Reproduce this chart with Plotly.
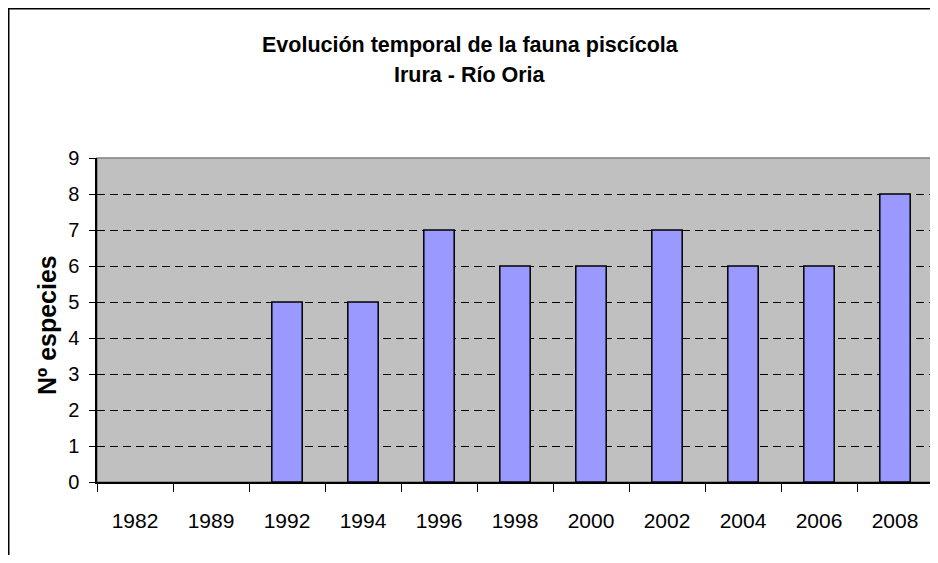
import plotly.graph_objects as go

years = ["1982", "1989", "1992", "1994", "1996", "1998", "2000", "2002", "2004", "2006", "2008"]
species = [None, None, 5, 5, 7, 6, 6, 7, 6, 6, 8]
y_ticks = [0, 1, 2, 3, 4, 5, 6, 7, 8, 9]

title_line1 = "Evolución temporal de la fauna piscícola"
title_line2 = "Irura - Río Oria"
y_title = "Nº especies"

# page body has an 8px margin, so the figure is offset by 8px;
# keep the figure small enough that no scrollbar appears
OFF = 8
W, H = 938 - OFF, 563 - 2 * OFF
L = 97 - OFF
T = 158 - OFF
R = W - (933 - OFF)
B = H - (482 - OFF)
pw = W - L - R
ph = H - T - B

def px_x(x):
    return (x - OFF - L) / pw

def px_y(y):
    return (H - B - (y - OFF)) / ph

FONT = "Liberation Sans, Arial, sans-serif"

fig = go.Figure()
fig.add_trace(go.Bar(
    x=years, y=species,
    marker=dict(color="#9999FF", line=dict(color="black", width=1.5)),
    width=0.4,
))

fig.update_layout(
    width=W, height=H,
    margin=dict(l=L, r=R, t=T, b=B),
    paper_bgcolor="white",
    plot_bgcolor="#C0C0C0",
    showlegend=False,
    font=dict(family=FONT, color="black"),
)

fig.update_xaxes(
    type="category",
    showgrid=False,
    showline=True, linecolor="black", linewidth=1.5,
    ticks="outside", ticklen=8, tickcolor="black", tickwidth=1,
    tickson="boundaries",
    tickfont=dict(size=21, family=FONT, color="black"),
    ticklabelstandoff=19,
)
fig.update_yaxes(
    range=[0, 9],
    tickvals=y_ticks,
    showgrid=True, gridcolor="black", gridwidth=1, griddash="8px,5px",
    zeroline=False,
    showline=True, linecolor="black", linewidth=1.5,
    ticks="outside", ticklen=6, tickcolor="black", tickwidth=1,
    tickfont=dict(size=20, family=FONT, color="black"),
    ticklabelstandoff=6,
)

# plot area border (top/right gray)
fig.add_shape(type="rect", xref="paper", yref="paper", x0=0, y0=0, x1=1, y1=1,
              line=dict(color="#808080", width=1.5), layer="below")
# outer chart border (cropped by the picture)
fig.add_shape(type="rect", xref="paper", yref="paper",
              x0=px_x(8.75), y0=px_y(620), x1=px_x(1000), y1=px_y(8.75),
              line=dict(color="black", width=1.5), layer="below")

fig.add_annotation(text="<b>" + title_line1 + "</b>", xref="paper", yref="paper",
                   x=px_x(470), y=px_y(45), showarrow=False,
                   font=dict(size=21.5, family=FONT, color="black"),
                   xanchor="center", yanchor="middle")
fig.add_annotation(text="<b>" + title_line2 + "</b>", xref="paper", yref="paper",
                   x=px_x(470), y=px_y(75), showarrow=False,
                   font=dict(size=21.5, family=FONT, color="black"),
                   xanchor="center", yanchor="middle")
fig.add_annotation(text="<b>" + y_title + "</b>", xref="paper", yref="paper",
                   x=px_x(47), y=px_y(325), showarrow=False, textangle=-90,
                   font=dict(size=25, family=FONT, color="black"),
                   xanchor="center", yanchor="middle")

fig.write_html("out.html")
